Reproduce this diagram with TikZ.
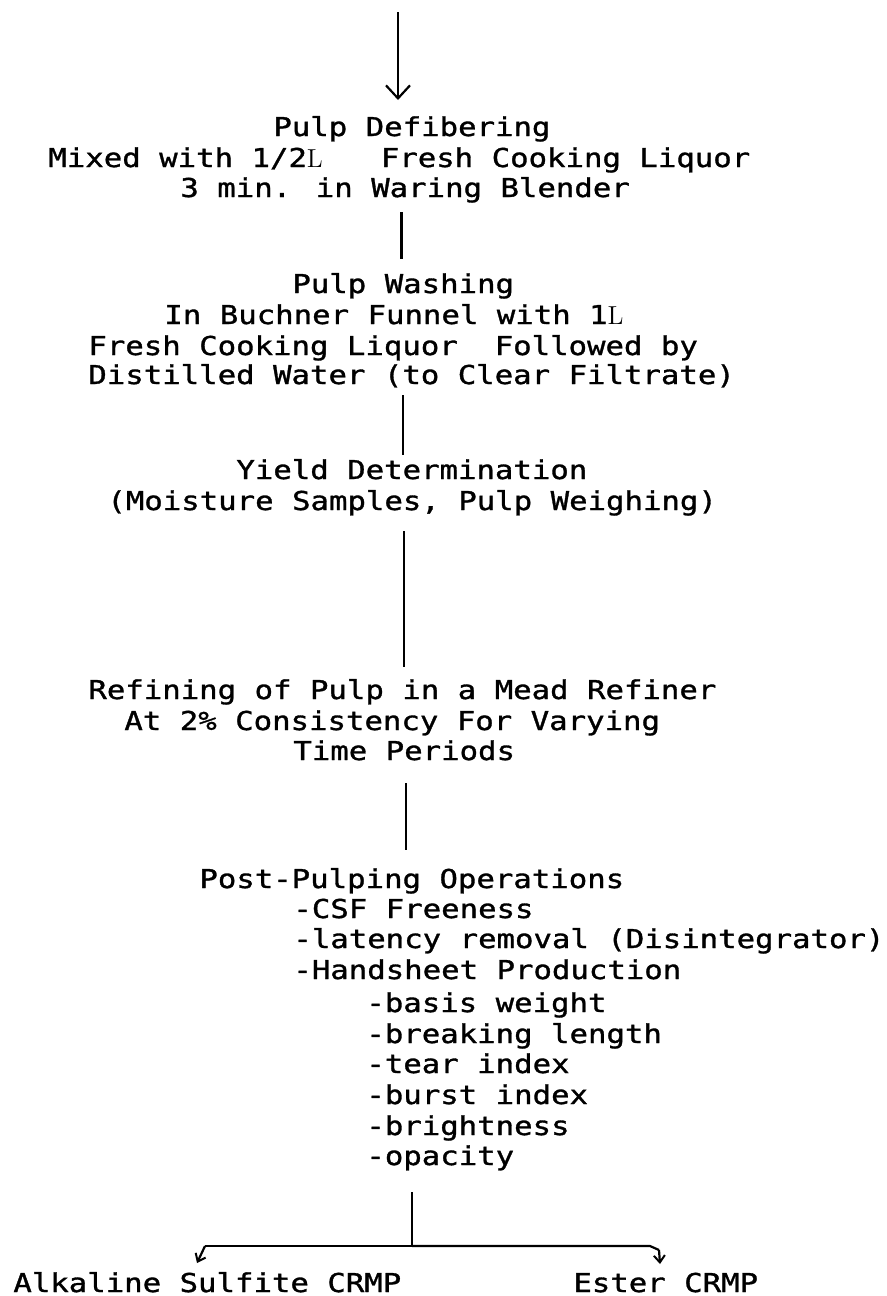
\documentclass[tikz,border=0pt]{standalone}
\usepackage{fontspec}
\usetikzlibrary{arrows.meta}
\newfontfamily\lgfont{DejaVu Sans Mono}[FakeStretch=1.18,FakeBold=1.2]
\newcommand{\slL}{\makebox[9.23pt][l]{\rmfamily L}}
\begin{document}
\begin{tikzpicture}[x=0.5pt,y=-0.5pt,
  txt/.style={anchor=base west,inner sep=0pt,font=\lgfont\fontsize{13pt}{15pt}\selectfont},
  conn/.style={line width=1.1pt},
  bigtip/.style={-{Straight Barb[length=6.5pt,width=12pt,line width=1.1pt]}},
  smalltip/.style={-{Straight Barb[length=3.5pt,width=5.5pt,line width=1pt]}}]
\useasboundingbox (0,0) rectangle (887,1296);
% texts
\node[txt] (t1) at (273,136) {Pulp Defibering};
\node[txt] (t2) at (48,167) {Mixed with 1/2\slL\ \ \ Fresh Cooking Liquor};
\node[txt] (t3) at (180,197) {3 min. in Waring Blender};
\node[txt] (t4) at (292,293) {Pulp Washing};
\node[txt] (t5) at (164,324) {In Buchner Funnel with 1\slL};
\node[txt] (t6) at (88,355) {Fresh Cooking Liquor\ \ Followed by};
\node[txt] (t7) at (88,384) {Distilled Water (to Clear Filtrate)};
\node[txt] (t8) at (236,479) {Yield Determination};
\node[txt] (t9) at (107,510) {(Moisture Samples, Pulp Weighing)};
\node[txt] (t10) at (88,699) {Refining of Pulp in a Mead Refiner};
\node[txt] (t11) at (124,730) {At 2\% Consistency For Varying};
\node[txt] (t12) at (293,760) {Time Periods};
\node[txt] (t13) at (199,888) {Post-Pulping Operations};
\node[txt] (t14) at (293,918) {-CSF Freeness};
\node[txt] (t15) at (293,948) {-latency removal (Disintegrator)};
\node[txt] (t16) at (293,979) {-Handsheet Production};
\node[txt] (t17) at (366,1012) {-basis weight};
\node[txt] (t18) at (366,1043) {-breaking length};
\node[txt] (t19) at (366,1073) {-tear index};
\node[txt] (t20) at (366,1104) {-burst index};
\node[txt] (t21) at (366,1135) {-brightness};
\node[txt] (t22) at (366,1165) {-opacity};
\node[txt] (as) at (13,1292) {Alkaline Sulfite CRMP};
\node[txt] (es) at (573,1292) {Ester CRMP};
% connector end points
\coordinate (a0) at (398,12);
\coordinate (a1) at (398,100);
\coordinate (c1a) at (401.5,212);
\coordinate (c1b) at (401.5,259);
\coordinate (c2a) at (403,395);
\coordinate (c2b) at (403,455);
\coordinate (c3a) at (404,531);
\coordinate (c3b) at (404,667);
\coordinate (c4a) at (406,783);
\coordinate (c4b) at (406,850);
\coordinate (c5a) at (412,1192);
\coordinate (j) at (412,1246);
\coordinate (lc) at (205,1246);
\coordinate (lt) at (197,1263);
\coordinate (rc) at (650,1246);
\coordinate (rb) at (659,1250);
\coordinate (rt) at (660,1264);
% connectors
\draw[conn,bigtip] (a0) -- (a1);
\draw[conn] (c1a) -- (c1b);
\draw[conn] (c2a) -- (c2b);
\draw[conn] (c3a) -- (c3b);
\draw[conn] (c4a) -- (c4b);
\draw[conn] (c5a) -- (j);
\draw[conn] (j) -- (lc);
\draw[conn,smalltip] (lc) -- (lt);
\draw[conn] (j) -- (rc) -- (rb);
\draw[conn,smalltip] (rb) -- (rt);
\end{tikzpicture}
\end{document}
